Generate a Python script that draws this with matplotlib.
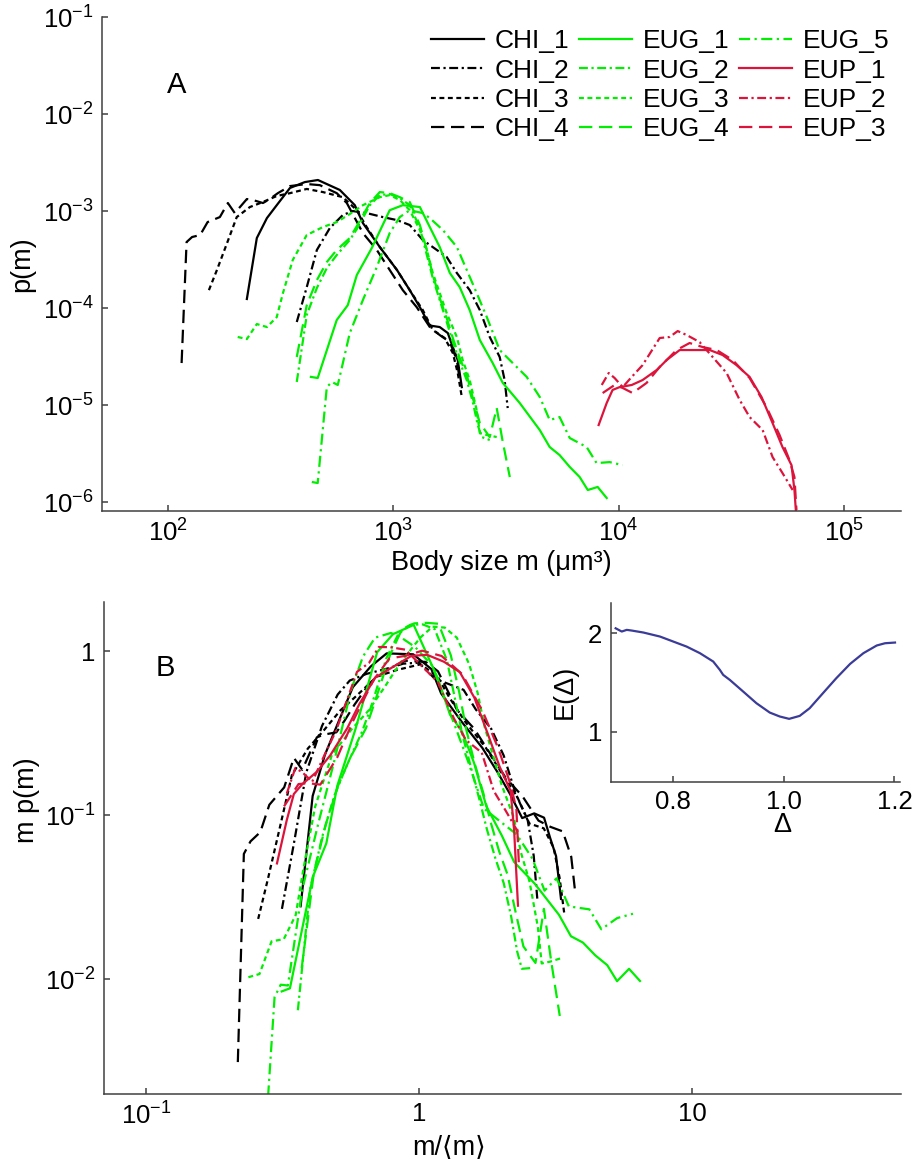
import numpy as np
import matplotlib
matplotlib.use('Agg')
import matplotlib.pyplot as plt

# fontes parecidas com Helvetica
plt.rcParams['font.family'] = ['Liberation Sans', 'DejaVu Sans']
plt.rcParams['mathtext.fontset'] = 'custom'
plt.rcParams['mathtext.rm'] = 'Liberation Sans'
plt.rcParams['mathtext.it'] = 'Liberation Sans:italic'
plt.rcParams['mathtext.default'] = 'regular'

chi1_m = [224, 248, 275, 304, 348, 405, 463, 579, 675, 733, 871, 1038, 1183, 1312, 1452, 1607, 1746, 1837, 1932, 2014]
chi1_p = [1.24e-4, 5.27e-4, 8.47e-4, 1.15e-3, 1.73e-3, 1.99e-3, 2.09e-3, 1.65e-3, 1.15e-3, 7.52e-4, 4.26e-4,
          2.47e-4, 1.53e-4, 1.02e-4, 6.6e-5, 6.37e-5, 5.52e-5, 3.96e-5, 2.91e-5, 1.53e-5]

chi2_m = [373, 413, 458, 523, 597, 661, 762, 898, 1038, 1183, 1352, 1560, 1726, 1914, 2183, 2421, 2679, 2965, 3119, 3219]
chi2_p = [7.18e-5, 1.64e-4, 3.97e-4, 6.68e-4, 9.10e-4, 1.00e-3, 9.53e-4, 8.67e-4, 8.07e-4, 7.18e-4, 5.03e-4,
          3.97e-4, 3.36e-4, 2.30e-4, 1.53e-4, 9.53e-5, 5.03e-5, 3.13e-5, 1.81e-5, 9.31e-6]

chi3_m = [152, 165, 183, 202, 231, 264, 304, 348, 413, 487, 597, 689, 762, 871, 1038, 1183, 1352, 1497, 1690,
          1837, 1932, 2014]
chi3_p = [1.53e-4, 2.47e-4, 4.68e-4, 8.67e-4, 1.10e-3, 1.24e-3, 1.43e-3, 1.53e-3, 1.69e-3, 1.57e-3, 1.39e-3,
          1.02e-3, 6.84e-4, 4.26e-4, 2.47e-4, 1.53e-4, 9.53e-5, 5.93e-5, 4.91e-5, 3.44e-5, 2.14e-5, 1.21e-5]

chi4_m = [115, 121, 128, 139, 150, 170, 184.5, 198, 224, 238, 264, 283, 307.5, 348, 413, 472, 561, 622, 733, 845,
          964, 1102, 1271, 1452, 1607, 1782, 1914, 1972]
chi4_p = [2.71e-5, 4.79e-4, 5.40e-4, 5.66e-4, 7.70e-4, 8.67e-4, 1.21e-3, 9.53e-4, 1.33e-3, 1.30e-3, 1.21e-3,
          1.33e-3, 1.53e-3, 1.81e-3, 1.90e-3, 1.85e-3, 1.53e-3, 1.21e-3, 5.93e-4, 3.97e-4, 2.47e-4, 1.53e-4,
          1.02e-4, 6.37e-5, 5.27e-5, 4.46e-5, 2.91e-5, 1.81e-5]

eug1_m = [431, 462, 561, 628, 689, 803, 964, 1102, 1312, 1452, 1607, 1782, 1972, 2183, 2421, 2761, 3061, 3639,
          4467, 4943, 5470, 6067, 6714, 7295, 8070, 8850]
eug1_p = [1.95e-5, 1.90e-5, 7.52e-5, 1.07e-4, 2.19e-4, 4.16e-4, 1.02e-3, 1.15e-3, 1.10e-3, 6.84e-4, 4.26e-4,
          2.30e-4, 1.64e-4, 9.53e-5, 4.68e-5, 2.71e-5, 1.69e-5, 1.05e-5, 5.52e-6, 3.69e-6, 3.05e-6, 2.30e-6,
          1.81e-6, 1.33e-6, 1.43e-6, 1.10e-6]

eug2_m = [373, 413, 458, 507, 561, 641, 689, 787, 871, 964, 1069, 1183, 1312, 1409, 1497, 1607, 1726, 1837, 1972,
          2118, 2254, 2371, 2467, 2679]
eug2_p = [1.73e-5, 8.47e-5, 1.61e-4, 2.58e-4, 3.52e-4, 5.03e-4, 6.52e-4, 1.15e-3, 1.46e-3, 1.50e-3, 1.36e-3,
          1.15e-3, 6.68e-4, 3.52e-4, 2.04e-4, 1.21e-4, 7.18e-5, 4.46e-5, 2.77e-5, 1.81e-5, 1.07e-5, 6.22e-6,
          4.68e-6, 4.36e-6]

eug3_m = [204, 224, 248, 275, 304, 324, 358, 413, 487, 561, 641, 733, 871, 964, 1069, 1183, 1312, 1409, 1497,
          1607, 1726, 1914, 2032, 2183, 2344, 2421, 2600, 2877]
eug3_p = [5.03e-5, 4.79e-5, 6.84e-5, 6.37e-5, 8.07e-5, 1.43e-4, 3.13e-4, 5.66e-4, 6.84e-4, 7.70e-4, 9.31e-4,
          1.15e-3, 1.39e-3, 1.46e-3, 1.30e-3, 1.02e-3, 6.37e-4, 3.97e-4, 2.30e-4, 1.43e-4, 8.87e-5, 5.03e-5,
          2.91e-5, 1.81e-5, 8.87e-6, 5.14e-6, 4.91e-6, 4.68e-6]

eug4_m = [373, 413, 458, 507, 561, 641, 689, 787, 871, 964, 1069, 1183, 1312, 1409, 1497, 1607, 1726, 1837, 1972,
          2118, 2254, 2421, 2679, 2877, 3061, 3289]
eug4_p = [3.13e-5, 1.07e-4, 1.94e-4, 2.98e-4, 3.97e-4, 5.27e-4, 7.00e-4, 1.21e-3, 1.57e-3, 1.53e-3, 1.39e-3,
          1.24e-3, 7.18e-4, 3.97e-4, 2.19e-4, 1.27e-4, 7.88e-5, 4.91e-5, 3.05e-5, 2.04e-5, 1.18e-5, 6.52e-6,
          4.68e-6, 9.31e-6, 4.16e-6, 1.81e-6]

eug5_m = [435, 462, 507, 534, 567, 592, 641, 733, 845, 964, 1069, 1183, 1352, 1452, 1660, 1914, 2118, 2344, 2600,
          2965, 3388, 3908, 4467, 4943, 5470, 6067, 7211, 7980, 9120, 10420]
eug5_p = [1.61e-6, 1.57e-6, 1.53e-5, 1.73e-5, 1.61e-5, 2.47e-5, 5.52e-5, 1.21e-4, 2.65e-4, 5.93e-4, 8.67e-4,
          1.02e-3, 9.53e-4, 8.47e-4, 6.37e-4, 4.26e-4, 2.47e-4, 1.43e-4, 8.07e-5, 3.69e-5, 2.71e-5, 1.95e-5,
          1.21e-5, 7.00e-6, 7.52e-6, 4.57e-6, 3.69e-6, 2.52e-6, 2.58e-6, 2.40e-6]

eup1_m = [8150, 8850, 9397, 10093, 11430, 12770, 14760, 16330, 18660, 21280, 25350, 28910, 33340, 38110, 43050,
          48190, 53330, 58480, 60260, 62230]
eup1_p = [6.22e-6, 1.05e-5, 1.43e-5, 1.53e-5, 1.61e-5, 1.81e-5, 2.30e-5, 2.91e-5, 3.69e-5, 3.69e-5, 3.69e-5,
          3.28e-5, 2.58e-5, 1.95e-5, 1.21e-5, 6.52e-6, 3.69e-6, 2.40e-6, 1.33e-6, 4.5e-7]

eup2_m = [8414, 9036, 9594, 10420, 11430, 12770, 15210, 16830, 18280, 20040, 22860, 26120, 30130, 34420, 38110,
          43550, 48190, 53330, 59160]
eup2_p = [1.61e-5, 2.14e-5, 1.90e-5, 1.53e-5, 1.95e-5, 2.58e-5, 4.91e-5, 5.03e-5, 5.79e-5, 5.27e-5, 4.46e-5,
          3.13e-5, 2.14e-5, 1.13e-5, 7.52e-6, 5.52e-6, 2.91e-6, 1.99e-6, 1.33e-6]

eup3_m = [8492, 9594, 10420, 11530, 13300, 15210, 18070, 20650, 23610, 27230, 32060, 38110, 45290, 51760, 57280,
          60260, 61520]
eup3_p = [1.33e-5, 1.61e-5, 1.50e-5, 1.33e-5, 1.69e-5, 2.47e-5, 3.69e-5, 4.36e-5, 3.96e-5, 3.69e-5, 2.91e-5,
          1.90e-5, 9.53e-6, 4.91e-6, 2.71e-6, 1.81e-6, 8.28e-7]

series_names = ['CHI_1', 'CHI_2', 'CHI_3', 'CHI_4', 'EUG_1', 'EUG_2', 'EUG_3', 'EUG_4', 'EUG_5',
                'EUP_1', 'EUP_2', 'EUP_3']
mean_size = [608, 1185, 590, 530, 1372, 1036, 860, 1003, 1714, 27000, 25650, 26500]

# ---- inset: E(Delta) ----
delta = [0.697, 0.708, 0.717, 0.726, 0.747, 0.777, 0.801, 0.825, 0.849, 0.873, 0.885, 0.891, 0.903, 0.927,
         0.951, 0.975, 0.993, 1.010, 1.029, 1.047, 1.071, 1.095, 1.120, 1.144, 1.168, 1.183, 1.201]
e_delta = [2.05, 2.017, 2.034, 2.027, 2.007, 1.966, 1.915, 1.864, 1.797, 1.712, 1.627, 1.576, 1.525, 1.407,
           1.288, 1.193, 1.153, 1.129, 1.159, 1.237, 1.390, 1.542, 1.688, 1.797, 1.875, 1.898, 1.905]

# ---- estilos ----
black = 'black'
green = '#00ee00'
red = '#dc143c'
dashdot = (0, (4, 1.6, 1, 1.6))
dotted = (0, (2.2, 1.6))
dashed = (0, (6, 3))
dashdot2 = (0, (5, 2, 1, 2))

data_m = [chi1_m, chi2_m, chi3_m, chi4_m, eug1_m, eug2_m, eug3_m, eug4_m, eug5_m, eup1_m, eup2_m, eup3_m]
data_p = [chi1_p, chi2_p, chi3_p, chi4_p, eug1_p, eug2_p, eug3_p, eug4_p, eug5_p, eup1_p, eup2_p, eup3_p]
colors = [black] * 4 + [green] * 5 + [red] * 3
styles = ['-', dashdot, dotted, dashed, '-', dashdot, dotted, dashed, dashdot2, '-', dashdot, dashed]

spine_col = '#404040'
tick_fs = 18.5
label_fs = 19.5


def style_axes(ax):
    for s in ['top', 'right']:
        ax.spines[s].set_visible(False)
    for s in ['left', 'bottom']:
        ax.spines[s].set_color(spine_col)
        ax.spines[s].set_linewidth(1.1)
    ax.tick_params(which='both', direction='in', length=4, width=1.1, color=spine_col,
                   labelsize=tick_fs, pad=6)


fig = plt.figure(figsize=(9.15, 11.62), dpi=100)

# ---- Painel A ----
axA = fig.add_axes([0.1115, 0.5602, 0.8732, 0.4251])
handles = []
for m, p, c, ls, name in zip(data_m, data_p, colors, styles, series_names):
    ln, = axA.plot(m, p, color=c, linestyle=ls, linewidth=1.6, label=name)
    handles.append(ln)
axA.set_xscale('log')
axA.set_yscale('log')
axA.set_xlim(51, 179000)
axA.set_ylim(10 ** -6.093, 1e-1)
axA.set_xticks([1e2, 1e3, 1e4, 1e5])
axA.set_xticklabels(['$10^{2}$', '$10^{3}$', '$10^{4}$', '$10^{5}$'])
axA.set_yticks([1e-6, 1e-5, 1e-4, 1e-3, 1e-2, 1e-1])
axA.set_yticklabels(['$10^{-6}$', '$10^{-5}$', '$10^{-4}$', '$10^{-3}$', '$10^{-2}$', '$10^{-1}$'])
axA.minorticks_off()
style_axes(axA)
axA.set_xlabel('Body size m (μm³)', fontsize=label_fs)
axA.set_ylabel('p(m)', fontsize=label_fs)
axA.xaxis.set_label_coords(0.5, -0.078)
axA.yaxis.set_label_coords(-0.084, 0.5)
axA.legend(handles, series_names, ncol=3, loc='upper left', bbox_to_anchor=(0.412, 0.975),
           frameon=False, fontsize=19, handlelength=2.0, handletextpad=0.42, columnspacing=0.35,
           labelspacing=0.2, borderpad=0, borderaxespad=0)
fig.text(177 / 915, 1 - 85 / 1162, 'A', fontsize=21, ha='center', va='center')

# ---- Painel B: m p(m) contra m/<m> ----
axB = fig.add_axes([0.1137, 0.0585, 0.8710, 0.4234])
for m, p, mu, c, ls in zip(data_m, data_p, mean_size, colors, styles):
    m = np.array(m, dtype=float)
    p = np.array(p)
    axB.plot(m / mu, m * p, color=c, linestyle=ls, linewidth=1.6)
axB.set_xscale('log')
axB.set_yscale('log')
axB.set_xlim(0.0702, 58.3)
axB.set_ylim(0.00199, 1.99)
axB.set_xticks([0.1, 1, 10])
axB.set_xticklabels(['$10^{-1}$', '1', '10'])
axB.set_yticks([0.01, 0.1, 1])
axB.set_yticklabels(['$10^{-2}$', '$10^{-1}$', '1'])
axB.minorticks_off()
style_axes(axB)
axB.set_xlabel('m/⟨m⟩', fontsize=label_fs)
axB.set_ylabel('m p(m)', fontsize=label_fs)
axB.xaxis.set_label_coords(0.433, -0.083)
axB.yaxis.set_label_coords(-0.080, 0.598)
fig.text(165 / 915, 1 - 668 / 1162, 'B', fontsize=21, ha='center', va='center')

# ---- inset ----
axI = fig.add_axes([0.6674, 0.3273, 0.3162, 0.1540])
axI.plot(delta, e_delta, color='#3b3b98', linewidth=1.6)
axI.set_xlim(0.688, 1.21)
axI.set_ylim(0.49, 2.31)
axI.set_xticks([0.8, 1.0, 1.2])
axI.set_xticklabels(['0.8', '1.0', '1.2'])
axI.set_yticks([1, 2])
axI.set_yticklabels(['1', '2'])
style_axes(axI)
axI.set_xlabel('Δ', fontsize=label_fs)
axI.set_ylabel('E(Δ)', fontsize=label_fs)
axI.xaxis.set_label_coords(0.592, -0.17)
axI.yaxis.set_label_coords(-0.113, 0.5)

plt.savefig('out.png', dpi=100)
plt.close()
